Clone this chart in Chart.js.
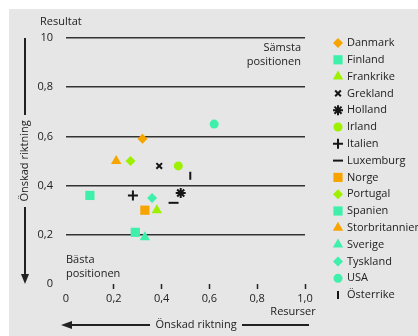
<!DOCTYPE html>
<html>
<head>
<meta charset="utf-8">
<script src="https://cdn.jsdelivr.net/npm/chart.js@4"></script>
<style>
  html, body { margin: 0; padding: 0; background: #fff; }
  #wrap { position: relative; width: 418px; height: 336px; }
</style>
</head>
<body>
<div id="wrap"><canvas id="chart" width="418" height="336"></canvas></div>
<script>
// ---- data ----
const countries = ['Danmark','Finland','Frankrike','Grekland','Holland','Irland','Italien','Luxemburg',
                   'Norge','Portugal','Spanien','Storbritannien','Sverige','Tyskland','USA','Österrike'];
const resurser  = [0.32, 0.10, 0.38, 0.39, 0.48, 0.47, 0.28, 0.45, 0.33, 0.27, 0.29, 0.21, 0.33, 0.36, 0.62, 0.52];
const resultat  = [0.59, 0.36, 0.30, 0.48, 0.37, 0.48, 0.36, 0.33, 0.30, 0.50, 0.21, 0.50, 0.19, 0.35, 0.65, 0.44];
const xTicks = ['0', '0,2', '0,4', '0,6', '0,8', '1,0'];
const yTicks = ['0', '0,2', '0,4', '0,6', '0,8', '10'];

// marker styles, same order as countries
const ORANGE = '#f7a400', LIME = '#9cf000', TEAL = '#3ff0ab', INK = '#151515';
const styles = [
  { shape: 'rectRot',  color: ORANGE, r: 5 },
  { shape: 'rect',     color: TEAL,   r: 6.5 },
  { shape: 'triangle', color: LIME,   r: 6 },
  { shape: 'crossRot', color: INK,    r: 4, w: 2 },
  { shape: 'star',     color: INK,    r: 5, w: 2 },
  { shape: 'circle',   color: LIME,   r: 4.5 },
  { shape: 'cross',    color: INK,    r: 5, w: 2 },
  { shape: 'line',     color: INK,    r: 5, w: 2 },
  { shape: 'rect',     color: ORANGE, r: 6.5 },
  { shape: 'rectRot',  color: LIME,   r: 5 },
  { shape: 'rect',     color: TEAL,   r: 6.5 },
  { shape: 'triangle', color: ORANGE, r: 6 },
  { shape: 'triangle', color: TEAL,   r: 6 },
  { shape: 'rectRot',  color: TEAL,   r: 5 },
  { shape: 'circle',   color: TEAL,   r: 4.5 },
  { shape: 'line',     color: INK,    r: 4, w: 2, rot: 90 },
];

const FONT = '"Open Sans", "DejaVu Sans", sans-serif';
const TXT = '#222';

const datasets = countries.map((c, i) => {
  const s = styles[i];
  const stroke = !!s.w;
  return {
    label: c,
    data: [{ x: resurser[i], y: resultat[i] }],
    pointStyle: s.shape,
    pointRadius: s.r,
    pointHoverRadius: s.r,
    pointRotation: s.rot || 0,
    pointBackgroundColor: s.color,
    pointBorderColor: s.color,
    pointBorderWidth: stroke ? s.w : 0,
  };
});

// background, legend, annotations and arrows
const decor = {
  id: 'decor',
  beforeDraw(chart) {
    const ctx = chart.ctx;
    ctx.save();
    ctx.fillStyle = '#e6e6e6';
    ctx.fillRect(9, 9, chart.width - 9, chart.height - 9);
    ctx.restore();
  },
  afterDraw(chart) {
    const ctx = chart.ctx;
    const xs = chart.scales.x, ys = chart.scales.y;
    const area = chart.chartArea;
    ctx.save();
    ctx.fillStyle = TXT;
    ctx.strokeStyle = TXT;
    ctx.font = '11px ' + FONT;
    ctx.textBaseline = 'middle';

    // axis names
    ctx.textAlign = 'left';
    ctx.fillText('Resultat', 40, 22);
    ctx.textAlign = 'center';
    ctx.fillText('Resurser', xs.getPixelForValue(0.95), 312);

    // corner notes
    ctx.textAlign = 'right';
    ctx.fillText('Sämsta', area.right - 4, 48);
    ctx.fillText('positionen', area.right - 4, 62);
    ctx.textAlign = 'left';
    ctx.fillText('Bästa', area.left, 260);
    ctx.fillText('positionen', area.left, 274);

    // vertical "Önskad riktning" with arrow down
    const ax = 25;
    ctx.lineWidth = 2;
    ctx.beginPath();
    ctx.moveTo(ax, area.top); ctx.lineTo(ax, 115);
    ctx.moveTo(ax, 207); ctx.lineTo(ax, area.bottom - 8);
    ctx.stroke();
    ctx.beginPath();
    ctx.moveTo(ax - 4, area.bottom - 10); ctx.lineTo(ax + 4, area.bottom - 10); ctx.lineTo(ax, area.bottom);
    ctx.closePath(); ctx.fill();
    ctx.save();
    ctx.translate(ax, 161);
    ctx.rotate(-Math.PI / 2);
    ctx.textAlign = 'center';
    ctx.fillText('Önskad riktning', 0, 0);
    ctx.restore();

    // horizontal "Önskad riktning" with arrow left
    const ay = 325;
    ctx.beginPath();
    ctx.moveTo(70, ay); ctx.lineTo(150, ay);
    ctx.moveTo(242, ay); ctx.lineTo(309, ay);
    ctx.stroke();
    ctx.beginPath();
    ctx.moveTo(72, ay - 4); ctx.lineTo(72, ay + 4); ctx.lineTo(61, ay);
    ctx.closePath(); ctx.fill();
    ctx.textAlign = 'center';
    ctx.fillText('Önskad riktning', 196, ay);

    // legend
    const lx = 338, ly = 43, step = 16.8;
    chart.data.datasets.forEach((ds, i) => {
      const y = ly + i * step;
      const s = styles[i];
      ctx.fillStyle = s.color;
      ctx.strokeStyle = s.color;
      ctx.lineWidth = s.w || 0;
      Chart.helpers.drawPoint(ctx, {
        pointStyle: s.shape, radius: s.r, rotation: s.rot || 0, borderWidth: s.w || 0
      }, lx, y);
      ctx.fillStyle = TXT;
      ctx.textAlign = 'left';
      ctx.fillText(ds.label, 347, y);
    });
    ctx.restore();
  }
};

new Chart(document.getElementById('chart'), {
  type: 'scatter',
  data: { datasets },
  plugins: [decor],
  options: {
    responsive: false,
    animation: false,
    layout: { padding: { top: 38, right: 113, left: 0, bottom: 0 } },
    plugins: { legend: { display: false }, tooltip: { enabled: false } },
    scales: {
      x: {
        min: 0, max: 1,
        afterFit: s => { s.height = 52; },
        border: { display: false },
        grid: {
          drawOnChartArea: false, drawTicks: true, tickLength: 5, tickWidth: 1.5,
          tickColor: c => (c.tick && c.tick.value === 0 ? 'rgba(0,0,0,0)' : '#222')
        },
        ticks: {
          stepSize: 0.2, padding: 3, color: TXT, font: { family: FONT, size: 11 },
          maxRotation: 0, autoSkip: false,
          callback: (v, i) => xTicks[i]
        }
      },
      y: {
        min: 0, max: 1,
        afterFit: s => { s.width = 66; },
        border: { display: false },
        grid: {
          drawTicks: false, lineWidth: 1.5,
          color: c => (c.tick && c.tick.value === 0 ? 'rgba(0,0,0,0)' : '#333')
        },
        ticks: {
          stepSize: 0.2, padding: 13, color: TXT, font: { family: FONT, size: 11 },
          autoSkip: false,
          callback: (v, i) => yTicks[i]
        }
      }
    }
  }
});
</script>
</body>
</html>
